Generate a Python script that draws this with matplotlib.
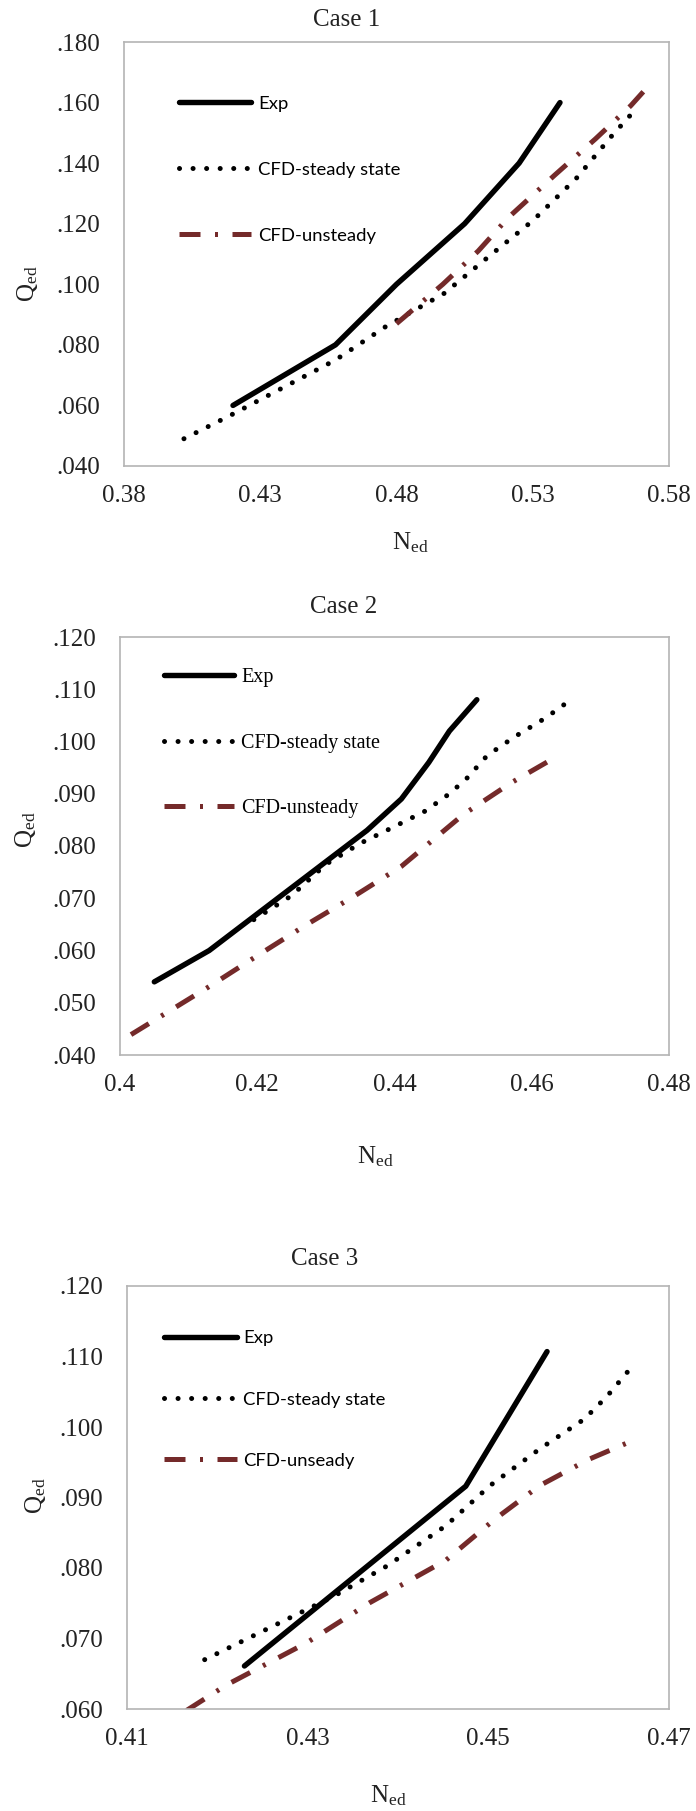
import matplotlib
matplotlib.use('Agg')
import matplotlib.pyplot as plt

plt.rcParams['font.family'] = ['Liberation Serif', 'DejaVu Serif']
plt.rcParams['mathtext.fontset'] = 'custom'
plt.rcParams['mathtext.rm'] = 'Liberation Serif'
plt.rcParams['mathtext.it'] = 'Liberation Serif:italic'

# Case 1 data
c1_exp_n = [0.420, 0.4576, 0.480, 0.505, 0.525, 0.540]
c1_exp_q = [0.060, 0.080, 0.100, 0.120, 0.140, 0.160]
c1_std_n = [0.402, 0.419, 0.4576, 0.476, 0.4975, 0.515, 0.530, 0.546, 0.559, 0.568]
c1_std_q = [0.049, 0.0567, 0.075, 0.086, 0.097, 0.110, 0.121, 0.135, 0.149, 0.158]
c1_uns_n = [0.480, 0.497, 0.510, 0.521, 0.538, 0.553, 0.566, 0.573]
c1_uns_q = [0.087, 0.100, 0.111, 0.122, 0.136, 0.148, 0.159, 0.166]

# Case 2 data
c2_exp_n = [0.405, 0.413, 0.420, 0.428, 0.436, 0.441, 0.445, 0.448, 0.452]
c2_exp_q = [0.054, 0.060, 0.067, 0.075, 0.083, 0.089, 0.096, 0.102, 0.108]
c2_std_n = [0.4195, 0.425, 0.430, 0.435, 0.4395, 0.4445, 0.448, 0.4505, 0.4535, 0.4575, 0.462, 0.4655]
c2_std_q = [0.0659, 0.0705, 0.0765, 0.0805, 0.0834, 0.0867, 0.090, 0.0929, 0.0973, 0.1009, 0.1045, 0.1078]
c2_uns_n = [0.4016, 0.413, 0.420, 0.427, 0.434, 0.441, 0.450, 0.457, 0.464]
c2_uns_q = [0.0439, 0.0531, 0.059, 0.0648, 0.0703, 0.0761, 0.086, 0.0921, 0.0974]

# Case 3 data
c3_exp_n = [0.423, 0.4475, 0.4565]
c3_exp_q = [0.0661, 0.0916, 0.1107]
c3_std_n = [0.4186, 0.4275, 0.4329, 0.4388, 0.4453, 0.4502, 0.4557, 0.4606, 0.4631, 0.4654]
c3_std_q = [0.067, 0.0726, 0.076, 0.0803, 0.086, 0.0917, 0.0969, 0.1011, 0.1043, 0.1078]
c3_uns_n = [0.4166, 0.421, 0.4299, 0.4369, 0.4453, 0.4507, 0.4557, 0.4611, 0.4653]
c3_uns_q = [0.0598, 0.0634, 0.0694, 0.0751, 0.0811, 0.0869, 0.0917, 0.0954, 0.0977]

c1_xticks = [0.38, 0.43, 0.48, 0.53, 0.58]
c1_xlabels = ['0.38', '0.43', '0.48', '0.53', '0.58']
c1_yticks = [0.040, 0.060, 0.080, 0.100, 0.120, 0.140, 0.160, 0.180]
c1_ylabels = ['.040', '.060', '.080', '.100', '.120', '.140', '.160', '.180']

c2_xticks = [0.40, 0.42, 0.44, 0.46, 0.48]
c2_xlabels = ['0.4', '0.42', '0.44', '0.46', '0.48']
c2_yticks = [0.040, 0.050, 0.060, 0.070, 0.080, 0.090, 0.100, 0.110, 0.120]
c2_ylabels = ['.040', '.050', '.060', '.070', '.080', '.090', '.100', '.110', '.120']

c3_xticks = [0.41, 0.43, 0.45, 0.47]
c3_xlabels = ['0.41', '0.43', '0.45', '0.47']
c3_yticks = [0.060, 0.070, 0.080, 0.090, 0.100, 0.110, 0.120]
c3_ylabels = ['.060', '.070', '.080', '.090', '.100', '.110', '.120']

W, H = 696, 1811
UNS_COLOR = '#742a2a'


def make_panel(fig, box, xt, xl, yt, yl, series, labels, legend_font, legend_size,
               legend_xy, handle_len, spacing):
    left, right, top, bottom = box
    ax = fig.add_axes([left / W, 1 - bottom / H, (right - left) / W, (bottom - top) / H])
    (en, eq), (sn, sq), (un, uq) = series
    ax.plot(en, eq, color='black', lw=3.9, solid_capstyle='round', solid_joinstyle='round', label=labels[0])
    ax.plot(sn, sq, color='black', lw=3.6, linestyle=(0, (0.01, 2.7)), dash_capstyle='round', label=labels[1])
    ax.plot(un, uq, color=UNS_COLOR, lw=3.6, linestyle=(0, (4.2, 2.9, 0.6, 2.9)), label=labels[2])
    ax.set_xlim(xt[0], xt[-1])
    ax.set_ylim(yt[0], yt[-1])
    ax.set_xticks(xt)
    ax.set_xticklabels(xl)
    ax.set_yticks(yt)
    ax.set_yticklabels(yl)
    ax.tick_params(length=0, labelsize=18, colors='#222222')
    ax.tick_params(axis='y', pad=17)
    ax.tick_params(axis='x', pad=14)
    for s in ax.spines.values():
        s.set_color('#b4b4b4')
        s.set_linewidth(1.2)
    ax.legend(loc='upper left', bbox_to_anchor=legend_xy, frameon=False,
              prop={'family': legend_font, 'size': legend_size},
              handlelength=handle_len, handletextpad=0.35, labelspacing=spacing,
              borderaxespad=0, borderpad=0)
    return ax


fig = plt.figure(figsize=(W / 100, H / 100), dpi=100)

make_panel(fig, (124, 669, 42, 466), c1_xticks, c1_xlabels, c1_yticks, c1_ylabels,
           [(c1_exp_n, c1_exp_q), (c1_std_n, c1_std_q), (c1_uns_n, c1_uns_q)],
           ['Exp', 'CFD-steady state', 'CFD-unsteady'], 'Lato', 13.3, (0.10, 0.873), 3.95, 2.7)
make_panel(fig, (120, 669, 637, 1055), c2_xticks, c2_xlabels, c2_yticks, c2_ylabels,
           [(c2_exp_n, c2_exp_q), (c2_std_n, c2_std_q), (c2_uns_n, c2_uns_q)],
           ['Exp', 'CFD-steady state', 'CFD-unsteady'], 'Liberation Serif', 14.5, (0.08, 0.925), 3.5, 2.3)
make_panel(fig, (127, 669, 1286, 1709), c3_xticks, c3_xlabels, c3_yticks, c3_ylabels,
           [(c3_exp_n, c3_exp_q), (c3_std_n, c3_std_q), (c3_uns_n, c3_uns_q)],
           ['Exp', 'CFD-steady state', 'CFD-unseady'], 'Lato', 13.3, (0.068, 0.895), 3.95, 2.45)

# titles and axis labels
titles = ['Case 1', 'Case 2', 'Case 3']
title_pos = [(347, 20), (344, 607), (325, 1259)]
for t, (x, y) in zip(titles, title_pos):
    fig.text(x / W, 1 - y / H, t, ha='center', va='center', fontsize=18, color='#222222')

ylab_pos = [(27, 284), (25, 830), (36, 1496)]
for x, y in ylab_pos:
    fig.text(x / W, 1 - y / H, r'Q$_{\mathrm{ed}}$', ha='center', va='center', rotation=90,
             fontsize=18, color='#222222')

xlab_pos = [(410, 543), (375, 1157), (388, 1796)]
for x, y in xlab_pos:
    fig.text(x / W, 1 - y / H, r'N$_{\mathrm{ed}}$', ha='center', va='center',
             fontsize=18, color='#222222')

fig.savefig('out.png', dpi=100, facecolor='white')
